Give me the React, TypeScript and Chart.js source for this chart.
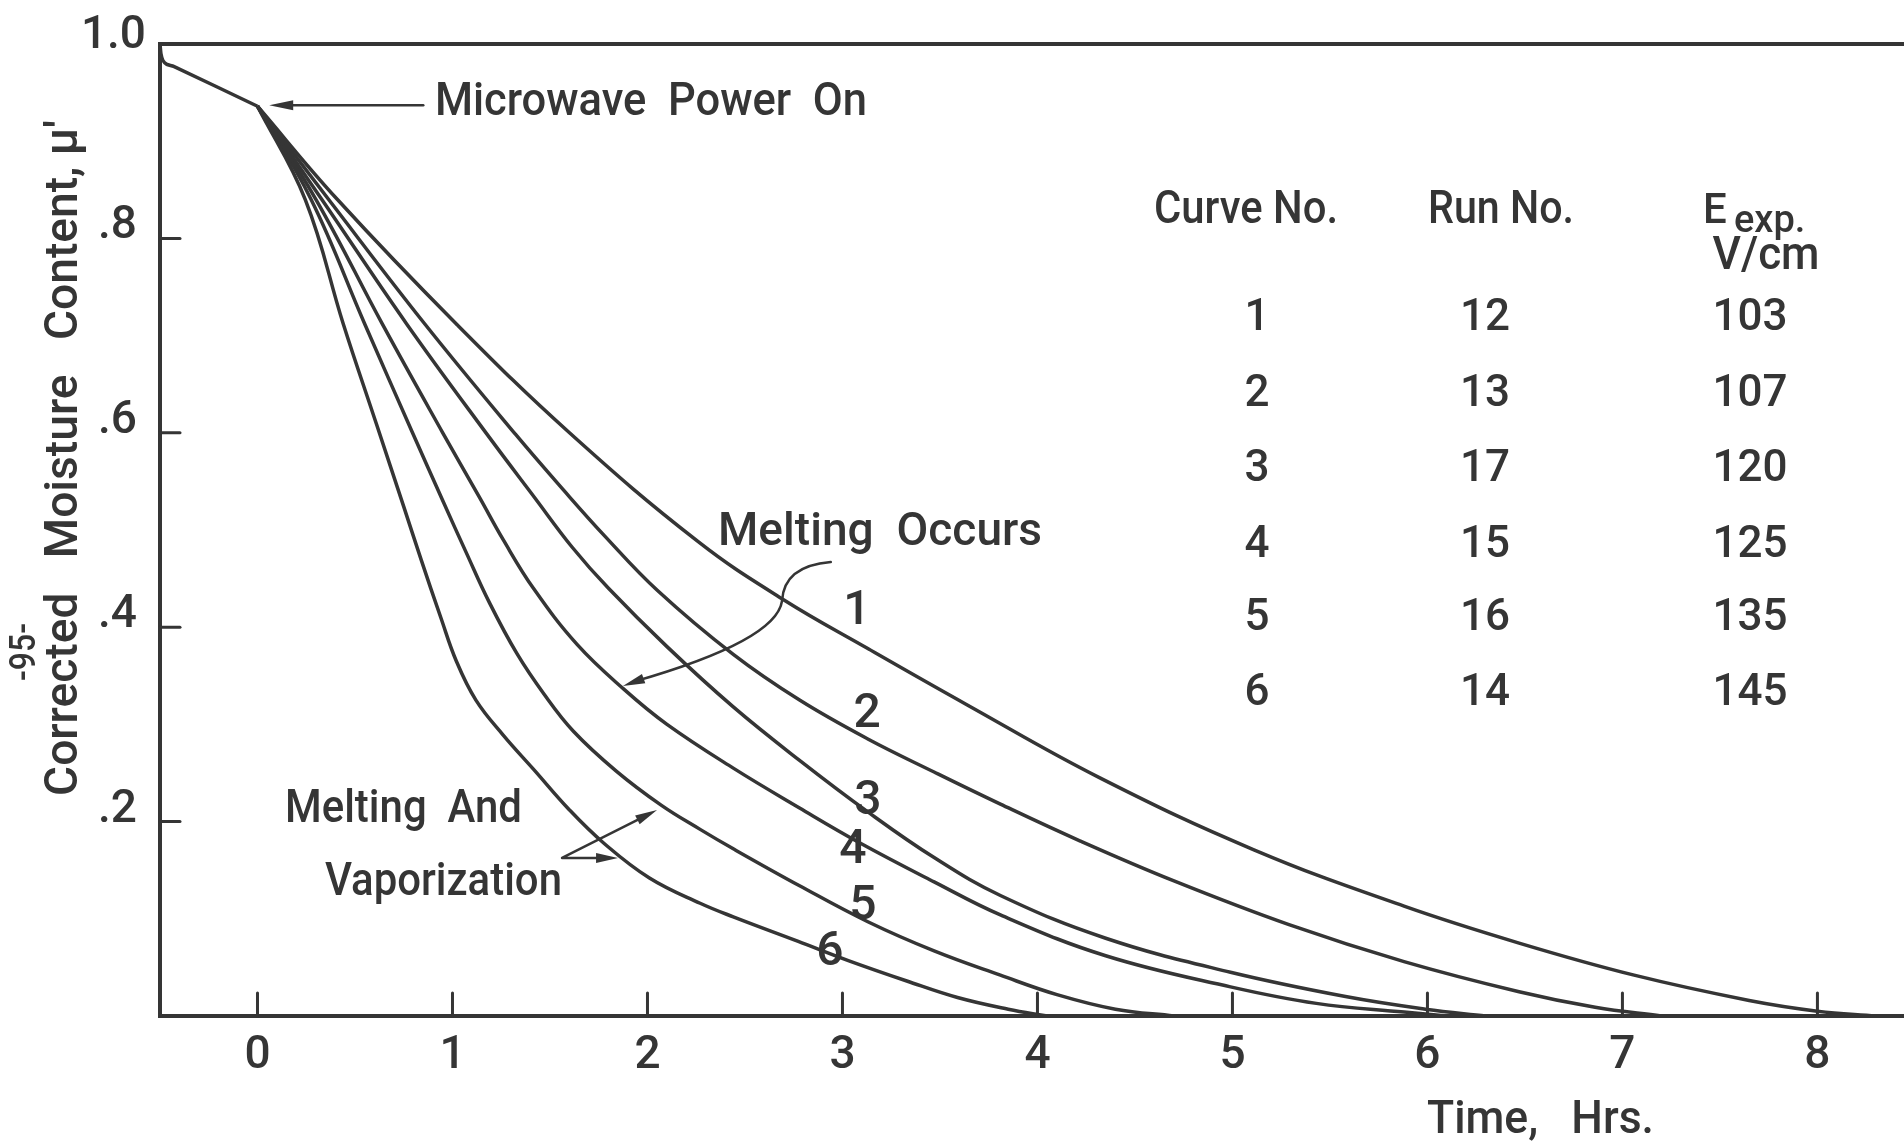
import { useEffect, useRef } from 'react';
import { Chart, registerables } from 'chart.js';

Chart.register(...registerables);

// ---- data -----------------------------------------------------------------
// Drying before the microwave field is switched on (shared by every run)
const preHeatHours = [-0.5, -0.495, -0.485, -0.465, -0.43, 0];
const preHeatMoisture = [1.0, 0.99, 0.983, 0.979, 0.977, 0.936];

const curve1Hours = [0, 0.41, 1.02, 1.6, 2.26, 2.7, 3.13, 3.64, 4.32, 5.11, 5.88, 6.47, 7.06, 7.65, 8.0, 8.3];
const curve1Moisture = [0.936, 0.84, 0.712, 0.6, 0.488, 0.428, 0.378, 0.32, 0.245, 0.171, 0.113, 0.075, 0.042, 0.016, 0.005, 0];

const curve2Hours = [0, 0.365, 0.85, 1.325, 1.57, 1.78, 2.05, 2.44, 2.78, 3.13, 3.47, 3.81, 4.22, 4.7, 5.29, 5.88, 6.47, 6.86, 7.2];
const curve2Moisture = [0.936, 0.84, 0.714, 0.598, 0.541, 0.494, 0.438, 0.372, 0.325, 0.285, 0.251, 0.218, 0.18, 0.139, 0.094, 0.056, 0.025, 0.009, 0];

const curve3Hours = [0, 0.33, 0.765, 1.19, 1.415, 1.615, 1.8, 2.1, 2.44, 2.78, 3.13, 3.47, 3.81, 4.35, 4.99, 5.58, 5.99, 6.3];
const curve3Moisture = [0.936, 0.84, 0.712, 0.595, 0.535, 0.482, 0.44, 0.38, 0.318, 0.263, 0.21, 0.163, 0.124, 0.08, 0.045, 0.02, 0.007, 0];

const curve4Hours = [0, 0.3, 0.64, 0.95, 1.14, 1.26, 1.415, 1.64, 1.88, 2.1, 2.44, 2.78, 3.09, 3.47, 3.81, 4.35, 4.99, 5.43, 5.88, 6.1];
const curve4Moisture = [0.936, 0.84, 0.712, 0.6, 0.533, 0.49, 0.44, 0.382, 0.336, 0.3, 0.255, 0.214, 0.178, 0.138, 0.104, 0.062, 0.03, 0.013, 0.004, 0];

const curve5Hours = [0, 0.275, 0.55, 0.795, 0.955, 1.07, 1.19, 1.33, 1.47, 1.62, 1.84, 2.07, 2.27, 2.44, 2.78, 3.13, 3.47, 3.81, 4.1, 4.4, 4.7];
const curve5Moisture = [0.936, 0.84, 0.712, 0.6, 0.528, 0.477, 0.425, 0.373, 0.331, 0.293, 0.252, 0.217, 0.192, 0.172, 0.134, 0.097, 0.067, 0.042, 0.022, 0.007, 0];

const curve6Hours = [0, 0.245, 0.44, 0.61, 0.75, 0.84, 0.94, 1.02, 1.12, 1.26, 1.415, 1.6, 1.775, 2.01, 2.27, 2.44, 2.77, 3.03, 3.33, 3.59, 3.85, 4.05];
const curve6Moisture = [0.936, 0.84, 0.712, 0.609, 0.524, 0.469, 0.41, 0.365, 0.325, 0.289, 0.254, 0.212, 0.178, 0.142, 0.116, 0.102, 0.077, 0.057, 0.036, 0.019, 0.007, 0];

// run table
const curveNumbers = ['1', '2', '3', '4', '5', '6'];
const runNumbers = ['12', '13', '17', '15', '16', '14'];
const fieldStrengths = ['103', '107', '120', '125', '135', '145'];

// axis ticks
const xTickValues = [0, 1, 2, 3, 4, 5, 6, 7, 8];
const xTickLabels = ['0', '1', '2', '3', '4', '5', '6', '7', '8'];
const yTickValues = [0.2, 0.4, 0.6, 0.8, 1.0];
const yTickLabels = ['.2', '.4', '.6', '.8', '1.0'];

// ---- styling --------------------------------------------------------------
const INK = '#353535';
const FONT = 'Roboto, "Noto Sans", "DejaVu Sans", sans-serif';
const WEIGHT = 500;

type Ctx = CanvasRenderingContext2D;

function zip(xs: number[], ys: number[]) {
  return xs.map((x, i) => ({ x, y: ys[i] }));
}

// Draws text, optionally squeezed/stretched horizontally to a given width
function label(
  ctx: Ctx,
  s: string,
  x: number,
  y: number,
  size: number,
  opts: { align?: CanvasTextAlign; width?: number; rotate?: number; baseline?: CanvasTextBaseline } = {}
) {
  ctx.save();
  ctx.font = `${WEIGHT} ${size}px ${FONT}`;
  ctx.fillStyle = INK;
  ctx.textAlign = opts.align ?? 'left';
  ctx.textBaseline = opts.baseline ?? 'alphabetic';
  ctx.translate(x, y);
  if (opts.rotate) ctx.rotate(opts.rotate);
  if (opts.width) {
    const w = ctx.measureText(s).width;
    const k = Math.max(0.65, Math.min(1.3, opts.width / w));
    ctx.scale(k, 1);
  }
  ctx.fillText(s, 0, 0);
  ctx.restore();
}

function arrowHead(ctx: Ctx, tx: number, ty: number, fx: number, fy: number, len = 20, half = 5) {
  const a = Math.atan2(ty - fy, tx - fx);
  const c = Math.cos(a);
  const s = Math.sin(a);
  ctx.beginPath();
  ctx.moveTo(tx, ty);
  ctx.lineTo(tx - len * c + half * s, ty - len * s - half * c);
  ctx.lineTo(tx - len * c - half * s, ty - len * s + half * c);
  ctx.closePath();
  ctx.fill();
}

const paperPlugin = {
  id: 'paper',
  beforeDraw(chart: Chart) {
    const { ctx, width, height } = chart;
    ctx.save();
    ctx.fillStyle = '#ffffff';
    ctx.fillRect(0, 0, width, height);
    ctx.restore();
  },
  afterDatasetsDraw(chart: Chart) {
    const ctx = chart.ctx;
    const xs = chart.scales.x;
    const ys = chart.scales.y;
    const px = (v: number) => xs.getPixelForValue(v);
    const py = (v: number) => ys.getPixelForValue(v);
    const { left, right, top, bottom } = chart.chartArea;

    ctx.save();
    ctx.strokeStyle = INK;
    ctx.fillStyle = INK;
    ctx.lineCap = 'round';

    // frame: left axis, top rule, bottom axis
    ctx.lineWidth = 4;
    ctx.beginPath();
    ctx.moveTo(right, top);
    ctx.lineTo(left, top);
    ctx.lineTo(left, bottom);
    ctx.lineTo(right, bottom);
    ctx.stroke();

    // ticks drawn inward
    ctx.lineWidth = 3;
    xTickValues.forEach((v) => {
      ctx.beginPath();
      ctx.moveTo(px(v), bottom);
      ctx.lineTo(px(v), bottom - 23);
      ctx.stroke();
    });
    yTickValues.forEach((v) => {
      if (v >= 1) return;
      ctx.beginPath();
      ctx.moveTo(left, py(v));
      ctx.lineTo(left + 20, py(v));
      ctx.stroke();
    });

    // tick labels
    xTickValues.forEach((v, i) => label(ctx, xTickLabels[i], px(v), bottom + 52, 46, { align: 'center' }));
    yTickValues.forEach((v, i) => {
      const top1 = v >= 1;
      label(ctx, yTickLabels[i], left - (top1 ? 14 : 23), py(v) + (top1 ? 4 : 0), 46, { align: 'right' });
    });

    // axis titles
    label(ctx, 'Time,   Hrs.', 1427, 1133, 46, { width: 227 });
    label(ctx, "Corrected   Moisture   Content, \u03BC'", 77, 458, 46, {
      align: 'center',
      rotate: -Math.PI / 2,
      width: 676,
    });
    label(ctx, '-95-', 35, 652, 36, { align: 'center', rotate: -Math.PI / 2, width: 58 });

    // "Microwave Power On" with pointer to the switch-on point
    ctx.lineWidth = 2.5;
    ctx.beginPath();
    ctx.moveTo(px(0.85), py(0.937));
    ctx.lineTo(px(0.12), py(0.937));
    ctx.stroke();
    arrowHead(ctx, px(0.06), py(0.937), px(0.85), py(0.937), 24, 5);
    label(ctx, 'Microwave  Power  On', px(0.91), py(0.927), 46, { width: 432 });

    // "Melting Occurs" with curved pointer
    label(ctx, 'Melting  Occurs', px(2.362), py(0.4846), 46, { width: 324 });
    ctx.beginPath();
    ctx.moveTo(px(2.94), py(0.467));
    ctx.quadraticCurveTo(px(2.7), py(0.463), px(2.69), py(0.427));
    ctx.quadraticCurveTo(px(2.66), py(0.386), px(1.93), py(0.344));
    ctx.stroke();
    arrowHead(ctx, px(1.874), py(0.3395), px(2.3), py(0.37), 22, 5);

    // "Melting And Vaporization" with two pointers
    label(ctx, 'Melting  And', px(0.141), py(0.1996), 46, { width: 237 });
    label(ctx, 'Vaporization', px(0.346), py(0.1245), 46, { width: 237 });
    ctx.beginPath();
    ctx.moveTo(px(1.562), py(0.1626));
    ctx.lineTo(px(2.0), py(0.207));
    ctx.moveTo(px(1.562), py(0.1626));
    ctx.lineTo(px(1.8), py(0.1626));
    ctx.stroke();
    arrowHead(ctx, px(2.049), py(0.212), px(1.562), py(0.1626), 22, 5);
    arrowHead(ctx, px(1.849), py(0.1626), px(1.562), py(0.1626), 22, 5);

    // curve numbers beside each curve
    const tags: [string, number, number][] = [
      ['1', 3.074, 0.4208],
      ['2', 3.126, 0.3148],
      ['3', 3.131, 0.2253],
      ['4', 3.054, 0.1749],
      ['5', 3.105, 0.1173],
      ['6', 2.936, 0.07],
    ];
    tags.forEach(([t, x, y]) => label(ctx, t, px(x), py(y) + 17, 48, { align: 'center' }));

    // run table
    label(ctx, 'Curve No.', 1246, 223, 46, { align: 'center', width: 184 });
    label(ctx, 'Run No.', 1501, 223, 46, { align: 'center', width: 146 });
    label(ctx, 'E', 1703, 223, 42);
    label(ctx, 'exp.', 1734, 232, 38);
    label(ctx, 'V/cm', 1766, 269, 46, { align: 'center', width: 107 });
    const rowBase = [330, 406, 481, 557, 630, 705];
    curveNumbers.forEach((c, i) => {
      label(ctx, c, 1257, rowBase[i], 44, { align: 'center' });
      label(ctx, runNumbers[i], 1485, rowBase[i], 44, { align: 'center' });
      label(ctx, fieldStrengths[i], 1750, rowBase[i], 44, { align: 'center' });
    });

    ctx.restore();
  },
};

export default function App() {
  const ref = useRef<HTMLCanvasElement>(null);

  useEffect(() => {
    if (!ref.current) return;
    const series = [
      zip(preHeatHours, preHeatMoisture),
      zip(curve1Hours, curve1Moisture),
      zip(curve2Hours, curve2Moisture),
      zip(curve3Hours, curve3Moisture),
      zip(curve4Hours, curve4Moisture),
      zip(curve5Hours, curve5Moisture),
      zip(curve6Hours, curve6Moisture),
    ];
    const chart = new Chart(ref.current, {
      type: 'line',
      data: {
        datasets: series.map((data, i) => ({
          label: i === 0 ? 'Before power on' : `Curve ${i}`,
          data,
          borderColor: INK,
          borderWidth: 3.5,
          pointRadius: 0,
          fill: false,
          tension: i === 0 ? 0.2 : 0.4,
        })),
      },
      options: {
        responsive: false,
        animation: false,
        events: [],
        layout: { padding: { left: 160, top: 44, right: 0, bottom: 129 } },
        scales: {
          x: { type: 'linear', min: -0.5, max: 8.444, display: false },
          y: { type: 'linear', min: 0, max: 1, display: false },
        },
        plugins: {
          legend: { display: false },
          tooltip: { enabled: false },
        },
      },
      plugins: [paperPlugin],
    });
    return () => chart.destroy();
  }, []);

  return (
    <div style={{ position: 'fixed', left: 0, top: 0, width: 1904, height: 1145, background: '#fff' }}>
      <canvas ref={ref} width={1904} height={1145} style={{ display: 'block', width: 1904, height: 1145 }} />
    </div>
  );
}
